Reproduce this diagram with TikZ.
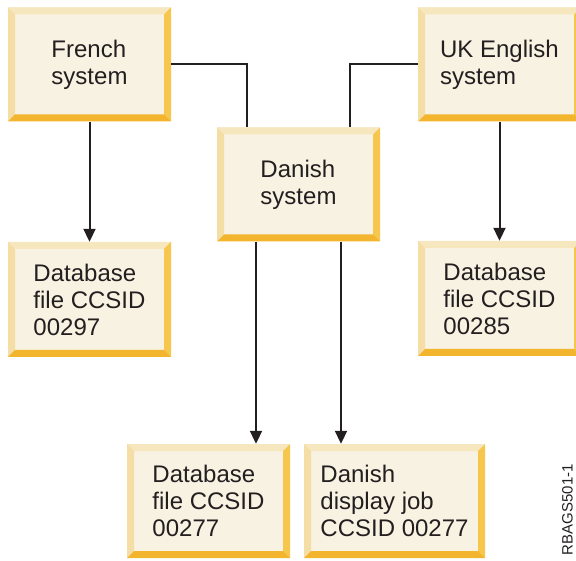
\documentclass[tikz,border=0pt]{standalone}
\usepackage{fontspec}
\setmainfont{Liberation Sans}
\usetikzlibrary{arrows.meta}

\definecolor{boxfill}{HTML}{F8F2E2}
\definecolor{bevtop}{HTML}{F6E7BF}
\definecolor{bevleft}{HTML}{F5DEA6}
\definecolor{bevright}{HTML}{F6C74C}
\definecolor{bevbottom}{HTML}{F3B42E}
\definecolor{ink}{HTML}{231F20}

\def\bv{7pt}
\tikzset{
  box/.style={rectangle, inner sep=0pt, fill=boxfill, text=ink, align=left,
    minimum width=163pt, minimum height=114pt,
    font=\fontsize{24pt}{27pt}\selectfont,
    path picture={
      \fill[bevtop] (path picture bounding box.north west) -- (path picture bounding box.north east)
        -- ([shift={(-\bv,-\bv)}]path picture bounding box.north east) -- ([shift={(\bv,-\bv)}]path picture bounding box.north west) -- cycle;
      \fill[bevleft] (path picture bounding box.north west) -- (path picture bounding box.south west)
        -- ([shift={(\bv,\bv)}]path picture bounding box.south west) -- ([shift={(\bv,-\bv)}]path picture bounding box.north west) -- cycle;
      \fill[bevright] (path picture bounding box.north east) -- (path picture bounding box.south east)
        -- ([shift={(-\bv,\bv)}]path picture bounding box.south east) -- ([shift={(-\bv,-\bv)}]path picture bounding box.north east) -- cycle;
      \fill[bevbottom] (path picture bounding box.south west) -- (path picture bounding box.south east)
        -- ([shift={(-\bv,\bv)}]path picture bounding box.south east) -- ([shift={(\bv,\bv)}]path picture bounding box.south west) -- cycle;
    }},
  link/.style={draw=ink, line width=2pt},
  arr/.style={link, -{Triangle[width=12pt,length=13pt]}}
}

\begin{document}
\begin{tikzpicture}[x=1pt,y=-1pt]
\useasboundingbox (0,0) rectangle (576,561);

% systems
\node[box](fr) at (89.5,64.5){French\\system};
\node[box](dk) at (298.5,184.5){Danish\\system};
\node[box](uk) at (499.5,64.5){UK English\\system};

% files and job
\node[box, minimum height=115pt](db297) at (89.5,299.5){Database\\file CCSID\\00297};
\node[box, minimum height=115pt](db285) at (499.5,298.5){Database\\file CCSID\\00285};
\node[box](db277) at (208.5,501){Database\\file CCSID\\00277};
\node[box, minimum width=181pt](job) at (394.5,501){Danish\\display job\\CCSID 00277};

% connections
\draw[link] (fr.east) -| ([xshift=-51.5pt]dk.north);
\draw[link] (uk.west) -| ([xshift=51.5pt]dk.north);
\draw[arr] (fr.south) -- (db297.north);
\draw[arr] (uk.south) -- (db285.north);
\draw[arr] ([xshift=-42.5pt]dk.south) -- ([xshift=-42.5pt]dk.south |- db277.north);
\draw[arr] ([xshift=42.5pt]dk.south) -- ([xshift=42.5pt]dk.south |- job.north);

\node[rotate=90, anchor=north east, inner sep=0pt, text=ink, font=\fontsize{15pt}{15pt}\selectfont](tag) at (562,464){RBAGS501-1};
\end{tikzpicture}
\end{document}
